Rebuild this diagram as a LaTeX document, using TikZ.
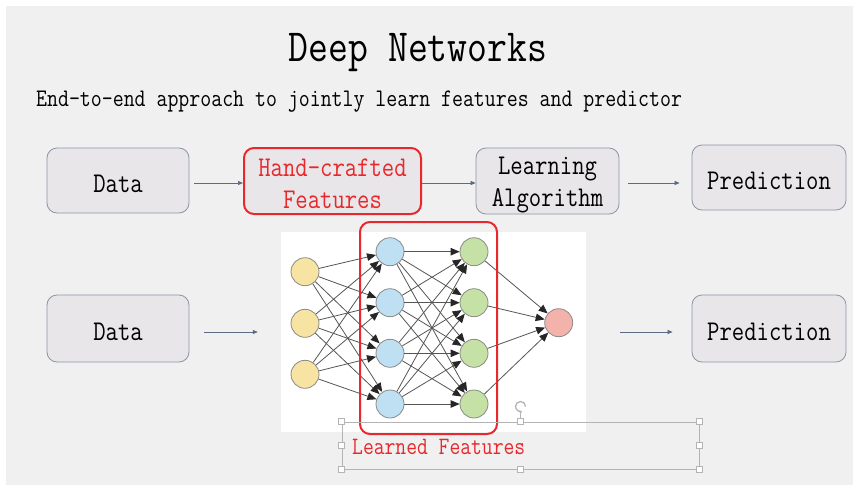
\documentclass[tikz,border=0pt]{standalone}
\usepackage{fontspec}
\newfontfamily\slidefont[FakeStretch=0.84]{Latin Modern Mono}
\usetikzlibrary{arrows.meta}

\definecolor{slidebg}{HTML}{F0F0F0}
\definecolor{boxfill}{HTML}{E8E6E9}
\definecolor{boxline}{HTML}{8C95A5}
\definecolor{hlred}{HTML}{E8282C}
\definecolor{arrowc}{HTML}{5B6B82}
\definecolor{inyel}{HTML}{F7E4A2}
\definecolor{hidblue}{HTML}{BFE0F2}
\definecolor{hidgreen}{HTML}{C6E1A6}
\definecolor{outpink}{HTML}{F4B3AA}
\definecolor{nodeedge}{HTML}{8A8A8A}
\definecolor{wirec}{HTML}{555555}
\definecolor{selgray}{HTML}{B4B4B4}

\tikzset{
  stepbox/.style={draw=boxline, fill=boxfill, line width=0.8pt, rounded corners=10pt, inner sep=0pt},
  redbox/.style={stepbox, draw=hlred, line width=2pt},
  steptext/.style={inner sep=0pt, align=center, font=\slidefont\fontsize{28.6}{32}\selectfont},
  flow/.style={draw=arrowc, line width=0.7pt, -{Triangle[length=5pt,width=4pt]}},
  neuron/.style={circle, draw=nodeedge, line width=0.8pt, minimum size=28pt, inner sep=0pt},
  wire/.style={draw=wirec, line width=0.8pt, -{Triangle[length=9pt,width=7.5pt,color=black!85]}},
  handle/.style={draw=selgray, fill=white, line width=0.8pt, minimum size=6pt, inner sep=0pt}
}

\begin{document}
\begin{tikzpicture}[x=1pt,y=-1pt]
\useasboundingbox (0,0) rectangle (853,487);
\fill[white] (0,0) rectangle (853,487);
\fill[slidebg] (6,6) rectangle (853,485);

% heading
\node[font=\slidefont\fontsize{46}{48}\selectfont, anchor=base, inner sep=0pt] (title) at (418,62) {Deep Networks};
\node[font=\slidefont\fontsize{25.3}{27}\selectfont, anchor=base west, inner sep=0pt] (subtitle) at (36,106)
  {End-to-end approach to jointly learn features and predictor};

% classic pipeline
\node[stepbox, minimum width=142pt, minimum height=65pt] (data1) at (118,180.5) {};
\node[redbox, minimum width=177pt, minimum height=66pt] (hand) at (332.5,181) {};
\node[stepbox, minimum width=143pt, minimum height=66pt] (algo) at (547.5,181) {};
\node[stepbox, minimum width=154pt, minimum height=65pt] (pred1) at (769,177.5) {};
\node[steptext, anchor=base] (data1t) at (118,192.5) {Data};
\node[steptext, text=hlred] (handt) at (332.5,183.6) {Hand-crafted\\Features};
\node[steptext] (algot) at (547.5,185.3) {Learning\\Algorithm};
\node[steptext, anchor=base] (pred1t) at (769,189) {Prediction};

\draw[flow, shorten <=5pt] (data1.east |- 0,183) -- (hand.west |- 0,183);
\draw[flow] (hand.east |- 0,183) -- (algo.west |- 0,183);
\draw[flow, shorten <=9pt, shorten >=12pt] (algo.east |- 0,183) -- (pred1.west |- 0,183);

% end-to-end pipeline
\node[stepbox, minimum width=142pt, minimum height=67pt] (data2) at (118,328.5) {};
\node[stepbox, minimum width=154pt, minimum height=67pt] (pred2) at (769,328.5) {};
\node[steptext, anchor=base] (data2t) at (118,340) {Data};
\node[steptext, anchor=base] (pred2t) at (769,340) {Prediction};
\node[fill=white, minimum width=305pt, minimum height=200pt, inner sep=0pt] (net) at (433.5,332) {};

\draw[flow, shorten <=15pt, shorten >=23pt] (data2.east |- 0,332) -- (net.west |- 0,332);
\draw[flow, shorten <=34pt, shorten >=19pt] (net.east |- 0,332) -- (pred2.west |- 0,332);

% network layers
\foreach \k/\y in {1/271.7, 2/323.3, 3/374.3}
  \node[neuron, fill=inyel] (i\k) at (305,\y) {};
\foreach \k/\y in {1/251.7, 2/302.7, 3/353.3, 4/404}{
  \node[neuron, fill=hidblue] (h\k) at (390,\y) {};
  \node[neuron, fill=hidgreen] (g\k) at (474,\y) {};
}
\node[neuron, fill=outpink] (o) at (558.7,322.7) {};

\foreach \a in {1,2,3}
  \foreach \b in {1,2,3,4}
    \draw[wire] (i\a) -- (h\b);
\foreach \a in {1,2,3,4}
  \foreach \b in {1,2,3,4}
    \draw[wire] (h\a) -- (g\b);
\foreach \a in {1,2,3,4}
  \draw[wire] (g\a) -- (o);

% highlight of the hidden layers
\node[draw=hlred, line width=2pt, rounded corners=10pt, minimum width=137pt, minimum height=212pt, inner sep=0pt]
  (learned) at (428.5,328) {};

% selected caption text box
\node[draw=selgray, line width=1pt, minimum width=357pt, minimum height=47pt, inner sep=0pt] (sel) at (520.5,445.5) {};
\node[font=\slidefont\fontsize{25}{27}\selectfont, text=hlred, anchor=base west, inner sep=0pt] (caption) at (352,454)
  {Learned Features};
\draw[selgray, line width=0.8pt] (sel.north) -- ++(0,-10) coordinate (rot);
\draw[selgray, line width=1.3pt, -{Stealth[length=3pt,width=4pt]}] ([xshift=5pt, yshift=5pt]rot) arc[start angle=0, end angle=290, radius=5pt];
\foreach \a in {north west, north, north east, west, east, south west, south, south east}
  \node[handle] at (sel.\a) {};
\end{tikzpicture}
\end{document}
